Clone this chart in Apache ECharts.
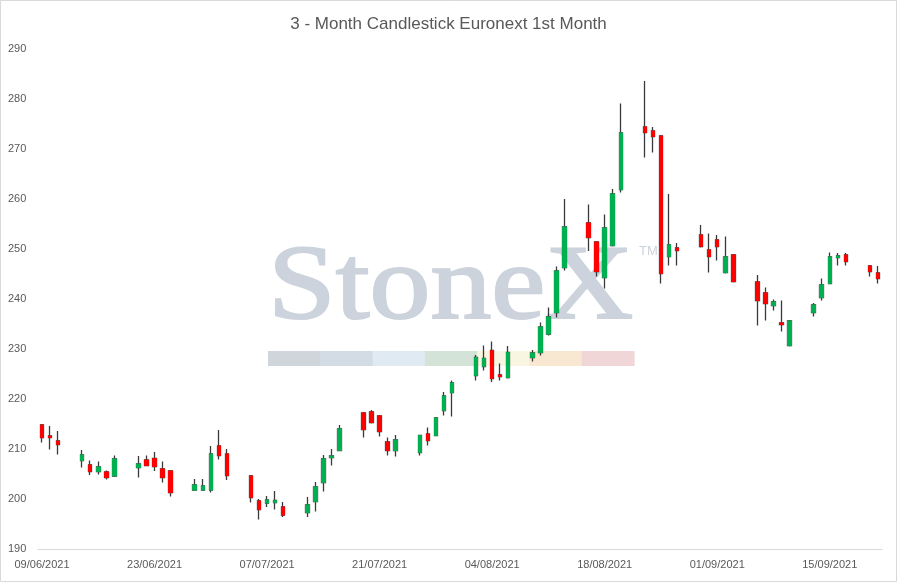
<!DOCTYPE html>
<html><head><meta charset="utf-8">
<script src="https://cdn.jsdelivr.net/npm/echarts@6/dist/echarts.min.js"></script>
<style>html,body{margin:0;padding:0;background:#fff}#c{width:897px;height:582px}</style>
</head><body><div id="c"></div>
<script>
const titleText = '3 - Month Candlestick Euronext 1st Month';
const tradeDates = [
 '09/06/2021','10/06/2021','11/06/2021','14/06/2021','15/06/2021','16/06/2021','17/06/2021','18/06/2021',
 '21/06/2021','22/06/2021','23/06/2021','24/06/2021','25/06/2021','28/06/2021','29/06/2021','30/06/2021',
 '01/07/2021','02/07/2021','05/07/2021','06/07/2021','07/07/2021','08/07/2021','09/07/2021','12/07/2021',
 '13/07/2021','14/07/2021','15/07/2021','16/07/2021','19/07/2021','20/07/2021','21/07/2021','22/07/2021',
 '23/07/2021','26/07/2021','27/07/2021','28/07/2021','29/07/2021','30/07/2021','02/08/2021','03/08/2021',
 '04/08/2021','05/08/2021','06/08/2021','09/08/2021','10/08/2021','11/08/2021','12/08/2021','13/08/2021',
 '16/08/2021','17/08/2021','18/08/2021','19/08/2021','20/08/2021','23/08/2021','24/08/2021','25/08/2021',
 '26/08/2021','27/08/2021','30/08/2021','31/08/2021','01/09/2021','02/09/2021','03/09/2021','06/09/2021',
 '07/09/2021','08/09/2021','09/09/2021','10/09/2021','13/09/2021','14/09/2021','15/09/2021','16/09/2021',
 '17/09/2021','20/09/2021','21/09/2021'
];
const openVals = [
 214.8,212.6,211.6,207.7,206.8,205.5,205.4,204.6,
 206.3,207.8,208.1,206.0,205.6,201.8,201.8,201.8,
 210.6,209.0,204.6,199.6,199.2,199.3,198.4,197.3,
 199.5,203.3,208.3,209.7,217.2,217.4,216.6,211.4,
 209.7,209.3,213.0,212.7,217.7,221.3,224.7,226.5,
 229.7,224.8,224.3,228.3,229.3,233.0,237.3,246.3,
 255.2,251.4,244.3,250.7,261.9,274.4,273.6,272.6,
 248.5,250.2,252.8,249.8,251.8,245.3,248.8,243.4,
 241.2,238.7,235.2,230.7,237.3,240.3,243.1,248.3,
 248.8,246.6,245.2
];
const closeVals = [
 212.3,212.3,210.9,208.8,205.5,206.4,204.3,208.0,
 207.0,206.7,206.5,204.3,201.3,202.8,202.6,209.0,
 208.7,204.7,200.3,197.9,199.8,199.7,196.8,198.8,
 202.4,208.0,208.6,214.0,213.9,215.3,213.5,209.7,
 211.8,212.7,211.7,216.2,220.6,223.2,228.3,228.1,
 224.1,224.5,229.3,229.2,234.4,236.4,245.6,254.4,
 252.3,245.5,254.2,261.0,273.2,273.3,272.5,245.1,
 250.8,249.7,250.5,248.5,250.5,248.4,243.5,239.7,
 239.1,239.4,234.9,235.6,238.8,242.8,248.4,248.6,
 247.5,245.5,244.1
];
const lowVals = [
 211.3,209.9,208.9,206.3,204.8,204.9,203.9,204.4,
 204.3,206.6,205.6,203.3,200.5,201.7,201.7,201.3,
 207.9,203.8,199.3,195.9,198.4,197.9,196.4,196.4,
 197.5,201.5,206.7,209.6,212.3,215.1,212.5,208.7,
 208.5,208.7,210.7,212.6,216.7,216.5,223.7,225.7,
 223.4,223.7,224.1,227.5,228.7,232.7,236.3,245.7,
 249.6,244.5,242.1,250.5,261.3,268.3,269.3,243.1,
 246.7,246.7,250.3,245.3,247.7,245.1,243.3,234.7,
 235.7,237.7,233.5,230.5,236.5,239.7,243.0,246.7,
 246.7,244.5,243.1
];
const highVals = [
 215.0,214.6,213.6,209.8,207.7,207.5,205.7,208.7,
 208.6,208.7,209.4,207.5,205.8,204.0,204.0,210.6,
 213.8,210.0,204.8,200.0,200.6,201.6,199.4,200.4,
 203.4,208.8,210.0,214.8,217.4,217.8,216.8,212.3,
 212.8,212.8,214.3,216.4,221.4,223.7,228.8,230.7,
 231.5,227.1,230.6,229.8,235.3,238.3,246.5,260.0,
 258.9,251.6,256.9,262.0,279.1,283.6,274.4,272.8,
 261.0,251.2,254.8,253.1,252.8,252.5,249.0,244.8,
 242.3,239.9,239.7,235.8,239.2,244.1,249.3,249.2,
 249.2,246.8,246.6
];
const yMin = 190, yMax = 290, yStep = 10;
const logoText = 'StoneX';
const logoBarColors = ['#d0d5dc','#d3dbe5','#dfeaf3','#d4e3d8','#f8f6e0','#f8e8d1','#f1d6d8'];

function parseDate(s){const p=s.split('/').map(Number);return Date.UTC(p[2],p[1]-1,p[0]);}
function pad(n){return (n<10?'0':'')+n;}
const days=[];
for(let t=parseDate(tradeDates[0]);t<=parseDate(tradeDates[tradeDates.length-1]);t+=86400000){
  const d=new Date(t);
  days.push(pad(d.getUTCDate())+'/'+pad(d.getUTCMonth()+1)+'/'+d.getUTCFullYear());
}
const wickData = tradeDates.map((d,i)=>[days.indexOf(d), openVals[i], closeVals[i], lowVals[i], highVals[i]]);
const bodyData = tradeDates.map((d,i)=>[days.indexOf(d), openVals[i], closeVals[i], Math.min(openVals[i],closeVals[i]), Math.max(openVals[i],closeVals[i])]);

const chart = echarts.init(document.getElementById('c'), null, {renderer:'canvas'});
const barSegW = 52.3;
const graphics = [
  {type:'rect', z:-10, silent:true, shape:{x:0.5,y:0.5,width:896,height:581}, style:{fill:'#fff',stroke:'#d9d9d9',lineWidth:1}},
  {type:'text', z:-5, silent:true, x:268, y:289.5, scaleX:0.99, scaleY:0.867, originX:0, originY:0,
   style:{text:logoText, x:0, y:0, font:'123px "Liberation Serif", serif', fill:'#ccd3dc', stroke:'#ccd3dc', lineWidth:2.4, textAlign:'left', textVerticalAlign:'middle'}},
  {type:'text', z:-5, silent:true, x:639, y:251,
   style:{text:'TM', x:0, y:0, font:'13px "Liberation Sans", sans-serif', fill:'#ccd3dc', textAlign:'left', textVerticalAlign:'middle'}}
];
logoBarColors.forEach((c,i)=>{
  graphics.push({type:'rect', z:-5, silent:true, shape:{x:268+i*barSegW, y:351, width:barSegW+0.5, height:15}, style:{fill:c}});
});

chart.setOption({
  animation:false,
  backgroundColor:'#ffffff',
  title:{text:titleText, left:'center', top:11, textStyle:{fontFamily:'"Liberation Sans", sans-serif', fontSize:17, fontWeight:'normal', color:'#595959'}},
  graphic:graphics,
  grid:{left:38, right:15, top:49, bottom:33, containLabel:false},
  xAxis:{type:'category', data:days, boundaryGap:true,
    axisLine:{show:true, lineStyle:{color:'#d9d9d9', width:1}},
    axisTick:{show:false},
    axisLabel:{interval:13, color:'#595959', fontSize:11, fontFamily:'"Liberation Sans", sans-serif', margin:10},
    splitLine:{show:false}},
  yAxis:{type:'value', min:yMin, max:yMax, interval:yStep, scale:true,
    axisLine:{show:false}, axisTick:{show:false}, splitLine:{show:false},
    axisLabel:{color:'#595959', fontSize:11, fontFamily:'"Liberation Sans", sans-serif', align:'left', margin:30}},
  series:[
    {type:'candlestick', name:'wick', data:wickData, encode:{x:0, y:[1,2,3,4]}, barWidth:4, z:2,
     itemStyle:{color:'#3a3a3a', color0:'#3a3a3a', borderColor:'#3a3a3a', borderColor0:'#3a3a3a', borderWidth:1.3}},
    {type:'candlestick', name:'body', data:bodyData, encode:{x:0, y:[1,2,3,4]}, barWidth:4, z:3,
     itemStyle:{color:'#00b050', color0:'#ff0000', borderColor:'#00b050', borderColor0:'#ff0000', borderWidth:1}}
  ]
});
</script></body></html>
